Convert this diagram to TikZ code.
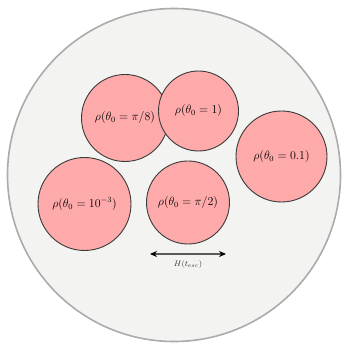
\documentclass[tikz,border=0pt]{standalone}
\usetikzlibrary{arrows.meta}
\definecolor{bgfill}{HTML}{F3F3F2}
\definecolor{bgline}{HTML}{ABABAB}
\definecolor{pinkfill}{HTML}{FFAAAA}
\definecolor{pinkline}{HTML}{3A3A3A}
\tikzset{
  blob/.style={circle, draw=pinkline, fill=pinkfill, line width=0.9pt, inner sep=0pt,
    font=\fontsize{12}{14}\selectfont},
  arena/.style={circle, draw=bgline, fill=bgfill, line width=1.6pt, inner sep=0pt},
  scalearrow/.style={draw=black!65, line width=1.2pt, {Stealth[length=7pt,width=6pt,black]}-{Stealth[length=7pt,width=6pt,black]}},
  scalelabel/.style={font=\fontsize{8.5}{10}\selectfont, text=black!80}
}
\begin{document}
\begin{tikzpicture}[x=1pt,y=-1pt]
\useasboundingbox (0,0) rectangle (345,344);
\node[arena, minimum size=333pt] (dom) at (174,175) {};
\node[blob, minimum size=87pt] (a) at (125,118) {$\rho(\theta_0=\pi/8)$};
\node[blob, minimum size=80pt] (b) at (198.5,111) {$\rho(\theta_0=1)$};
\node[blob, minimum size=91pt] (c) at (281.5,156.5) {$\rho(\theta_0=0.1)$};
\node[blob, minimum size=93pt] (d) at (84.5,204) {$\rho(\theta_0=10^{-3})$};
\node[blob, minimum size=83pt] (e) at (188,202.5) {$\rho(\theta_0=\pi/2)$};
\coordinate (l) at (150,254);
\coordinate (r) at (226,254);
\draw[scalearrow] (l) -- (r);
\node[scalelabel] (h) at (188,265) {$H(t_{esc})$};
\end{tikzpicture}
\end{document}
